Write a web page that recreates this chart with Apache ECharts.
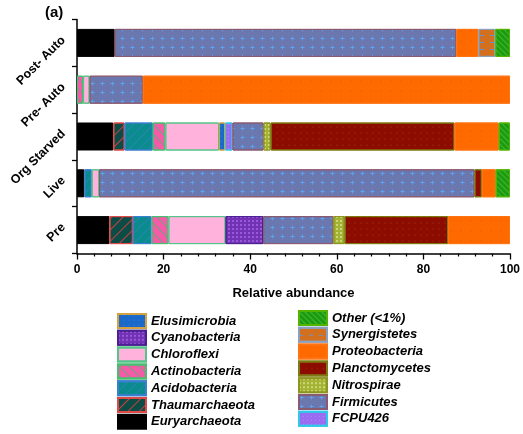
<!DOCTYPE html>
<html>
<head>
<meta charset="utf-8">
<script src="https://cdn.jsdelivr.net/npm/echarts@6/dist/echarts.min.js"></script>
<style>html,body{margin:0;padding:0;background:#fff}#c{width:523px;height:434px}</style>
</head>
<body>
<div id="c"></div>
<script>
const categories = ['Pre', 'Live', 'Org Starved', 'Pre- Auto', 'Post- Auto'];
const xTicks = [0, 20, 40, 60, 80, 100];

const euryarchaeota  = [7.5, 1.7, 8.4, 0, 8.7];
const thaumarchaeota = [5.4, 0, 2.6, 0, 0];
const acidobacteria  = [4.3, 1.7, 6.5, 0, 0];
const actinobacteria = [3.9, 0, 2.9, 1.4, 0];
const chloroflexi    = [13.2, 1.7, 12.4, 1.5, 0];
const cyanobacteria  = [8.7, 0, 0, 0, 0];
const elusimicrobia  = [0, 0, 1.4, 0, 0];
const fcpu426        = [0, 0, 1.7, 0, 0];
const firmicutes     = [16.2, 86.7, 7.2, 12.3, 78.9];
const nitrospirae    = [2.6, 0, 1.6, 0, 0];
const planctomycetes = [23.9, 1.7, 42.5, 0, 0];
const proteobacteria = [14.3, 3.2, 10.2, 84.8, 5.1];
const synergistetes  = [0, 0, 0, 0, 3.9];
const other          = [0, 3.3, 2.6, 0, 3.4];

const seriesNames = ['Euryarchaeota','Thaumarchaeota','Acidobacteria','Actinobacteria','Chloroflexi','Cyanobacteria','Elusimicrobia','FCPU426','Firmicutes','Nitrospirae','Planctomycetes','Proteobacteria','Synergistetes','Other (<1%)'];
const seriesData = [euryarchaeota, thaumarchaeota, acidobacteria, actinobacteria, chloroflexi, cyanobacteria, elusimicrobia, fcpu426, firmicutes, nitrospirae, planctomycetes, proteobacteria, synergistetes, other];

const P = Math.PI;
const styles = [
  {c:'#000000', b:'#000000', d:null},
  {c:'#0c4c46', b:'#e04848', d:{symbol:'rect', color:'#c84040', dashArrayX:[1,0], dashArrayY:[1,7], rotation:-P/4}},
  {c:'#0a8b8d', b:'#3a7fd0', d:{symbol:'rect', color:'rgba(60,130,200,0.55)', dashArrayX:[1,0], dashArrayY:[1,6], rotation:-P/4}},
  {c:'#f75aa8', b:'#45c070', d:{symbol:'rect', color:'rgba(80,180,110,0.8)', dashArrayX:[1,0], dashArrayY:[1,6], rotation:P/4}},
  {c:'#ffb2dc', b:'#55c488', d:{symbol:'circle', symbolSize:0.5, color:'#d890b8', dashArrayX:[1,7], dashArrayY:[1,7]}},
  {c:'#7232b4', b:'#4a2090', d:{symbol:'rect', symbolSize:1, color:'#9858d8', dashArrayX:[2,2], dashArrayY:[2,2]}},
  {c:'#1a68c8', b:'#d4a040', d:{symbol:'circle', symbolSize:0.6, color:'#3b8ae8', dashArrayX:[2,3], dashArrayY:[2,3]}},
  {c:'#9a6cf0', b:'#30c8e8', d:{symbol:'rect', symbolSize:1, color:'#b088ff', dashArrayX:[1,3], dashArrayY:[1,3]}},
  {c:'#6b78b0', b:'#8a5a70', d:{symbol:'path://M2,0H3V2H5V3H3V5H2V3H0V2H2Z', symbolSize:0.8, color:'#5aa6f2', dashArrayX:[5,5], dashArrayY:[5,4]}},
  {c:'#a2b232', b:'#8e9420', d:{symbol:'rect', symbolSize:1, color:'#cdd67a', dashArrayX:[2,2], dashArrayY:[2,2]}},
  {c:'#8c0c00', b:'#7c7a10', d:{symbol:'circle', symbolSize:0.6, color:'#a84818', dashArrayX:[2,4], dashArrayY:[2,4]}},
  {c:'#ff6a00', b:'#ff7410', d:{symbol:'circle', symbolSize:0.6, color:'#dc5200', dashArrayX:[2,8], dashArrayY:[2,8]}},
  {c:'#d27020', b:'#8aa0c0', d:{symbol:'rect', color:'#6a92d0', dashArrayX:[4,6], dashArrayY:[1,6]}},
  {c:'#1e9a12', b:'#52b400', d:{symbol:'rect', color:'#3cba2a', dashArrayX:[1,0], dashArrayY:[1,3], rotation:P/4}}
];

const font = 'Liberation Sans, Arial, sans-serif';

const series = seriesNames.map((name, i) => {
  const st = styles[i];
  const itemStyle = {color: st.c, borderColor: st.b, borderWidth: 1};
  if (st.d) itemStyle.decal = st.d;
  return {
    name: name,
    type: 'bar',
    stack: 'total',
    barWidth: 28,
    data: seriesData[i].map(v => v === 0 ? '-' : v),
    itemStyle: itemStyle,
    emphasis: {disabled: true}
  };
});

const leftLegend = ['Elusimicrobia','Cyanobacteria','Chloroflexi','Actinobacteria','Acidobacteria','Thaumarchaeota','Euryarchaeota'];
const rightLegend = ['Other (<1%)','Synergistetes','Proteobacteria','Planctomycetes','Nitrospirae','Firmicutes','FCPU426'];

const legendBase = {
  orient: 'vertical',
  padding: 0,
  itemWidth: 28,
  itemHeight: 14,
  itemGap: 0.8,
  selectedMode: false,
  icon: 'rect',
  textStyle: {fontFamily: font, fontSize: 13, fontWeight: 'bold', fontStyle: 'italic', color: '#000'}
};

const chart = echarts.init(document.getElementById('c'), null, {renderer: 'canvas'});
chart.setOption({
  backgroundColor: '#ffffff',
  animation: false,
  grid: {left: 77, right: 11, top: 19.5, bottom: 180.5, containLabel: false},
  graphic: [{type: 'text', left: 45, top: 5, style: {text: '(a)', font: 'bold 15px ' + font, fill: '#000'}}],
  xAxis: {
    type: 'value', min: xTicks[0], max: xTicks[xTicks.length - 1], interval: xTicks[1] - xTicks[0],
    axisLine: {show: true, lineStyle: {color: '#000', width: 1.5}},
    axisTick: {show: true, length: 6, lineStyle: {color: '#000', width: 1.3}},
    minorTick: {show: true, splitNumber: 5, length: 3, lineStyle: {color: '#000', width: 1.2}},
    splitLine: {show: false},
    axisLabel: {fontFamily: font, fontSize: 12, fontWeight: 'bold', color: '#000', margin: 10},
    name: 'Relative abundance', nameLocation: 'middle', nameGap: 33,
    nameTextStyle: {fontFamily: font, fontSize: 13, fontWeight: 'bold', color: '#000'}
  },
  yAxis: {
    type: 'category', data: categories,
    axisLine: {show: true, lineStyle: {color: '#000', width: 1.5}},
    axisTick: {show: true, length: 5, alignWithLabel: false, lineStyle: {color: '#000', width: 1.3}},
    axisLabel: {fontFamily: font, fontSize: 12.5, fontWeight: 'bold', color: '#000', rotate: 45, margin: 9, verticalAlign: 'bottom'}
  },
  legend: [
    Object.assign({}, legendBase, {left: 117, top: 313, data: leftLegend}),
    Object.assign({}, legendBase, {left: 298, top: 310, data: rightLegend})
  ],
  series: series
});
</script>
</body>
</html>
